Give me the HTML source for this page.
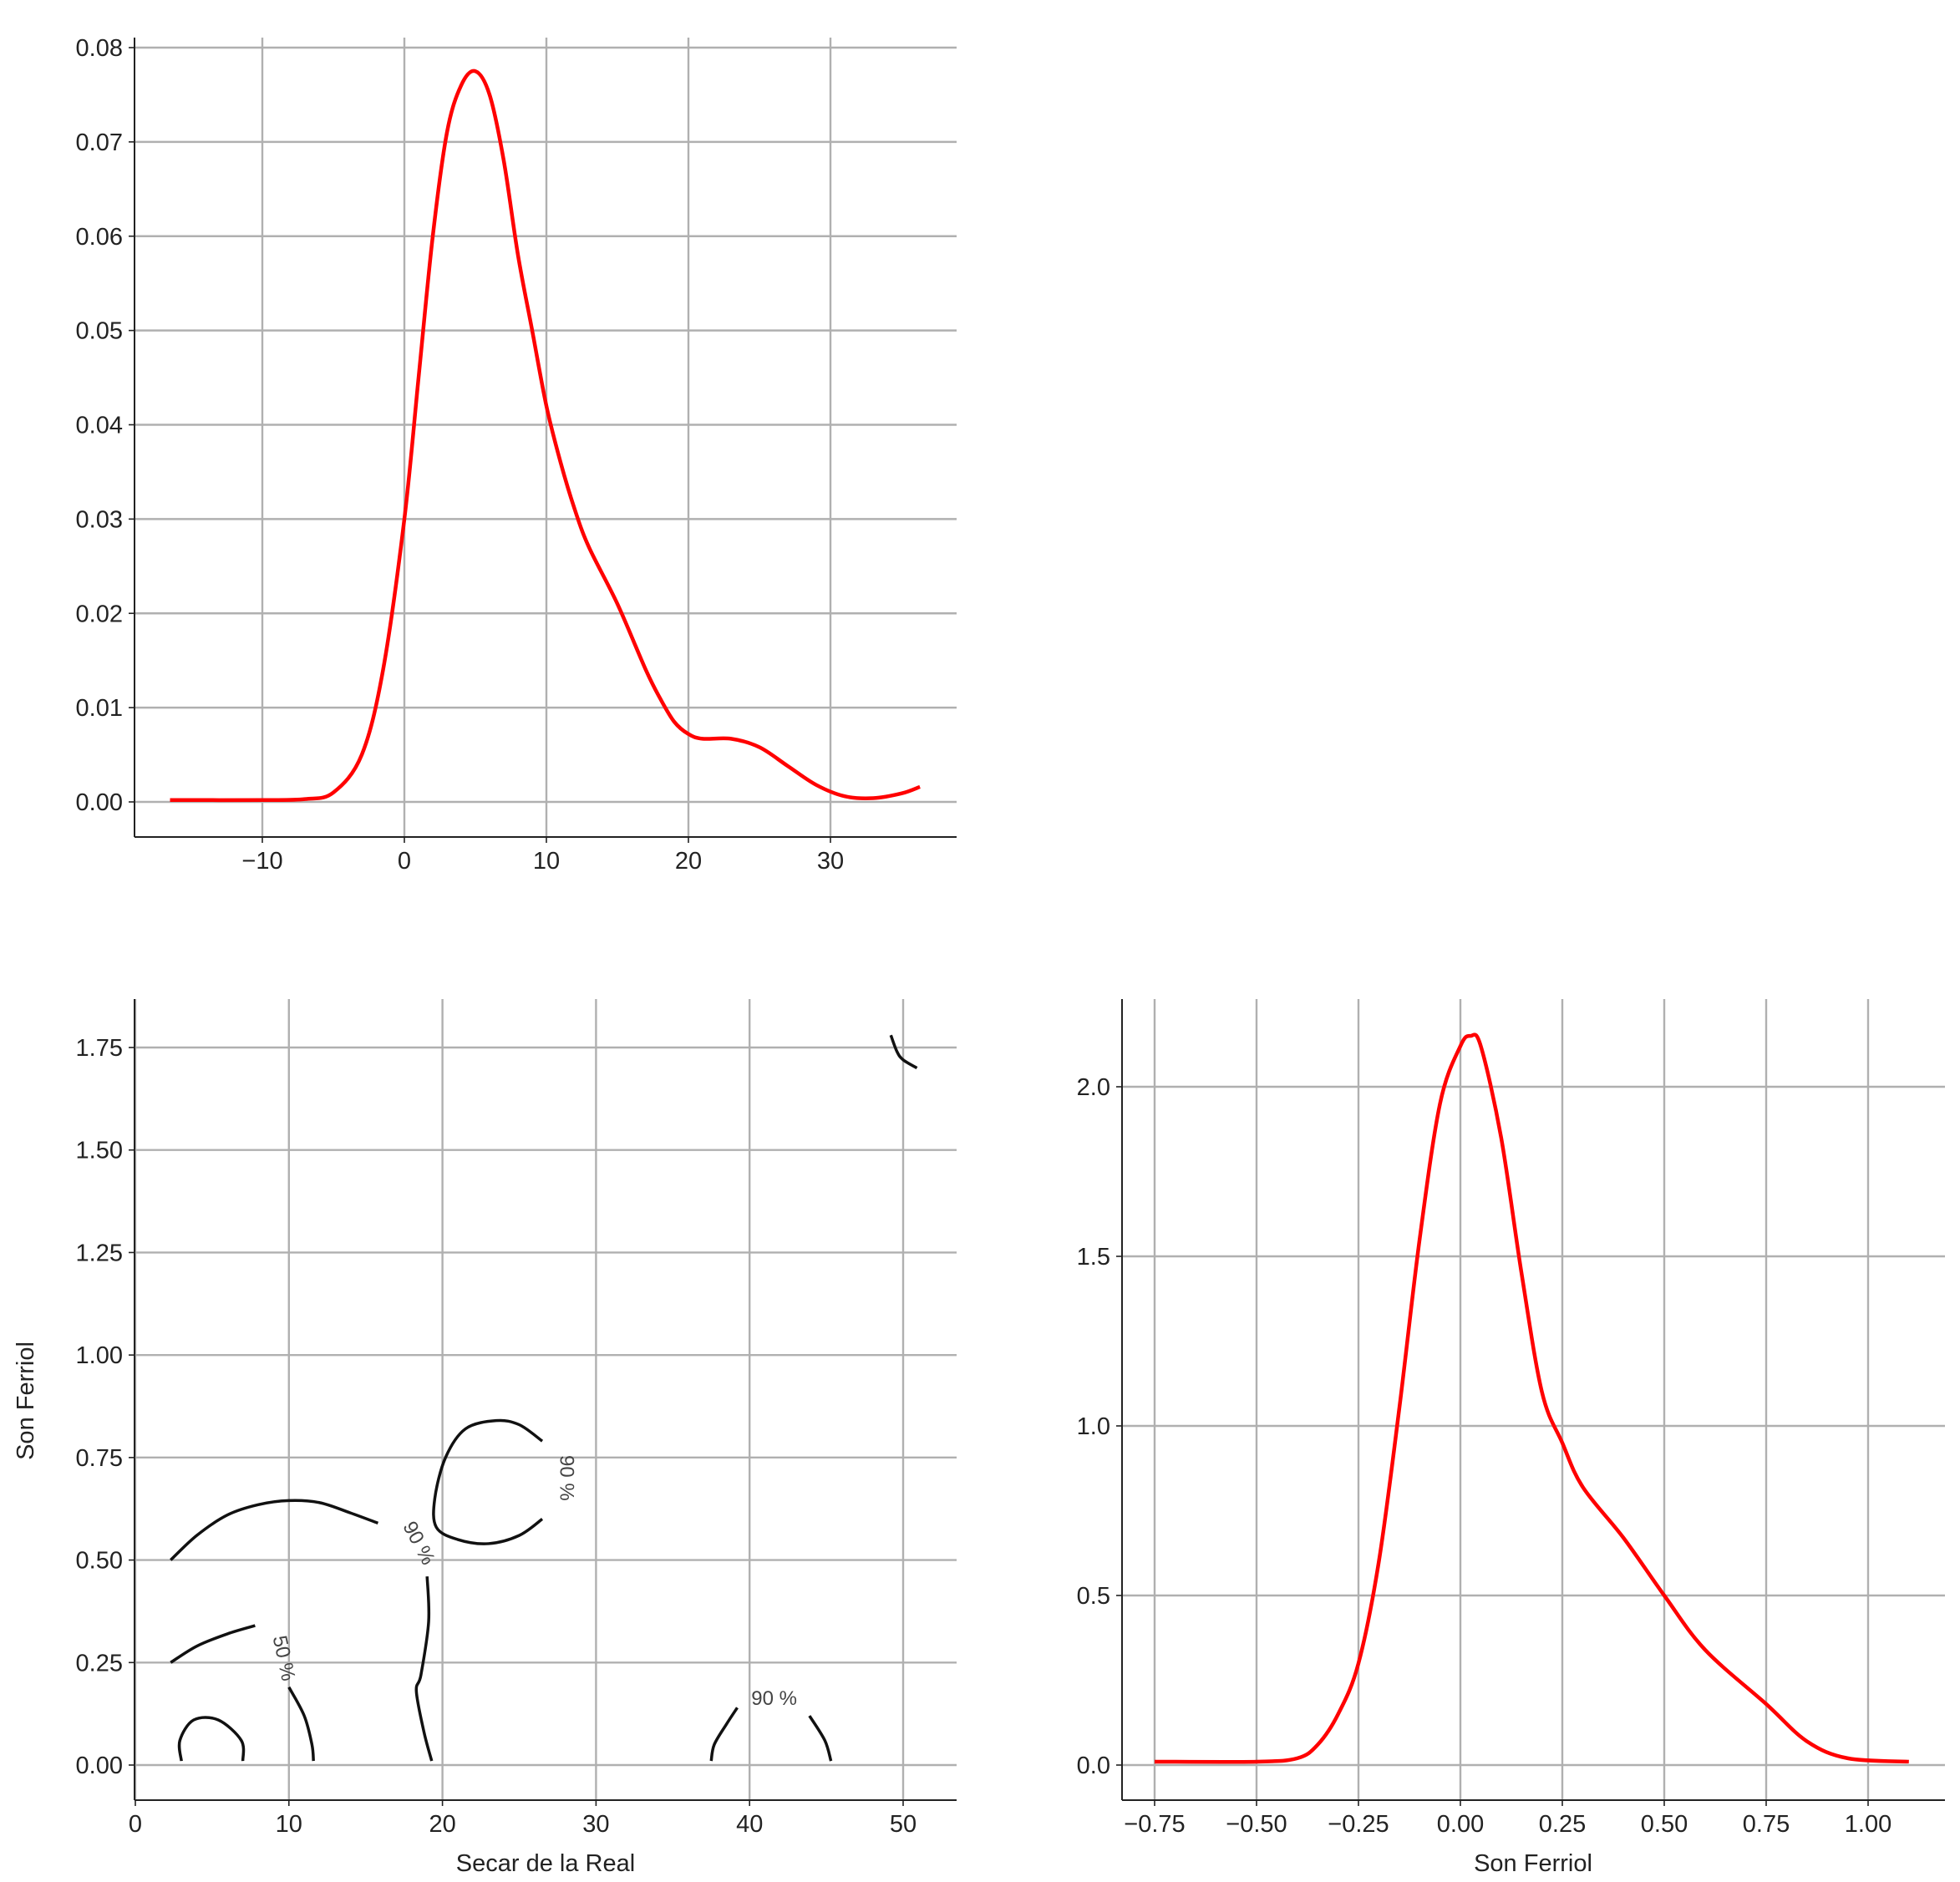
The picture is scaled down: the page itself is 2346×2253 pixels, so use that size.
<!DOCTYPE html>
<html><head><meta charset="utf-8"><style>
html,body{margin:0;padding:0;background:#fff}
svg{display:block}
text{font-family:"Liberation Sans","DejaVu Sans",sans-serif;fill:#222}
</style></head><body>
<svg id="svg" width="2346" height="2253" viewBox="0 0 2346 2253" xmlns="http://www.w3.org/2000/svg"></svg>
<script>
// ---- data ----
const topX = [-16.5,-10,-7,-5,-3,-1.5,0,1,2,3,4,5,6,7,8,9,10,11,12,13,15,17,18,19,20,21,23,25,27,29,31,33,35,36.3];
const topY = [0.0002,0.0002,0.0003,0.001,0.005,0.014,0.03,0.045,0.06,0.071,0.076,0.0775,0.075,0.068,0.058,0.05,0.042,0.036,0.031,0.027,0.021,0.014,0.011,0.0085,0.0072,0.0067,0.0067,0.0058,0.0038,0.0018,0.0006,0.0004,0.0009,0.0016];
const topXTicks = [-10,0,10,20,30];
const topXTickLabels = ["\u221210","0","10","20","30"];
const topYTicks = [0,0.01,0.02,0.03,0.04,0.05,0.06,0.07,0.08];
const topYTickLabels = ["0.00","0.01","0.02","0.03","0.04","0.05","0.06","0.07","0.08"];

const brX = [-0.75,-0.5,-0.4,-0.35,-0.3,-0.25,-0.2,-0.15,-0.1,-0.05,0,0.025,0.05,0.1,0.15,0.2,0.25,0.3,0.4,0.5,0.6,0.75,0.85,0.95,1.1];
const brY = [0.01,0.01,0.02,0.06,0.15,0.3,0.6,1.05,1.55,1.95,2.12,2.15,2.12,1.85,1.45,1.1,0.95,0.82,0.67,0.5,0.34,0.18,0.07,0.02,0.01];
const brXTicks = [-0.75,-0.5,-0.25,0,0.25,0.5,0.75,1.0];
const brXTickLabels = ["\u22120.75","\u22120.50","\u22120.25","0.00","0.25","0.50","0.75","1.00"];
const brYTicks = [0,0.5,1.0,1.5,2.0];
const brYTickLabels = ["0.0","0.5","1.0","1.5","2.0"];

const blXTicks = [0,10,20,30,40,50];
const blXTickLabels = ["0","10","20","30","40","50"];
const blYTicks = [0,0.25,0.5,0.75,1.0,1.25,1.5,1.75];
const blYTickLabels = ["0.00","0.25","0.50","0.75","1.00","1.25","1.50","1.75"];
const contourArc1 = [[2.3,0.5],[4,0.56],[6,0.61],[8,0.635],[10,0.645],[12,0.64],[14,0.615],[15.8,0.59]];
const contourLine2 = [[19,0.46],[19.1,0.35],[18.6,0.22],[18.3,0.18],[18.8,0.08],[19.3,0.01]];
const contourRing = [[26.5,0.79],[25,0.83],[23.5,0.84],[21.5,0.82],[20.2,0.75],[19.5,0.65],[19.6,0.58],[21,0.55],[23,0.54],[25,0.56],[26.5,0.6]];
const contourArc3 = [[2.3,0.25],[4,0.29],[6,0.32],[7.8,0.34]];
const contourLine4 = [[10,0.19],[11,0.12],[11.5,0.05],[11.6,0.01]];
const contourCap5 = [[3,0.01],[2.9,0.06],[3.8,0.11],[5.4,0.11],[6.9,0.06],[7,0.01]];
const contourArc6a = [[37.5,0.01],[37.7,0.05],[38.5,0.1],[39.2,0.14]];
const contourArc6b = [[43.9,0.12],[44.9,0.06],[45.3,0.01]];
const contourCorner7 = [[49.2,1.78],[49.6,1.74],[50,1.72],[50.9,1.7]];
const contourLabels = [["90 %",18.4,0.54,62],["90 %",28,0.7,90],["50 %",9.6,0.26,78],["90 %",41.6,0.16,0]];

// ---- helpers ----
const NS="http://www.w3.org/2000/svg";
const svg=document.getElementById('svg');
function mk(tag,attrs,parent){const e=document.createElementNS(NS,tag);for(const k in attrs)e.setAttribute(k,attrs[k]);(parent||svg).appendChild(e);return e;}
function lin(d0,d1,r0,r1){return v=>r0+(v-d0)*(r1-r0)/(d1-d0);}
function smoothPath(pts){let d=`M${pts[0][0]},${pts[0][1]}`;for(let i=0;i<pts.length-1;i++){const p0=pts[i-1]||pts[i],p1=pts[i],p2=pts[i+1],p3=pts[i+2]||p2;const c1=[p1[0]+(p2[0]-p0[0])/6,p1[1]+(p2[1]-p0[1])/6],c2=[p2[0]-(p3[0]-p1[0])/6,p2[1]-(p3[1]-p1[1])/6];d+=` C${c1[0]},${c1[1]} ${c2[0]},${c2[1]} ${p2[0]},${p2[1]}`;}return d;}

function axes(name,box,sx,sy,xt,xl,yt,yl){
  const g=mk('g',{});
  
  
  xt.forEach((v,i)=>{const x=sx(v);
    const l=mk('line',{x1:x,x2:x,y1:box.t,y2:box.b,stroke:'#b0b0b0','stroke-width':2.4},g);
    
    
    mk('line',{x1:x,x2:x,y1:box.b,y2:box.b+7,stroke:'#222','stroke-width':1.6},g);
    const t=mk('text',{x:x,y:box.b+38,'text-anchor':'middle','font-size':29},g);t.textContent=xl[i];
    
    
  });
  yt.forEach((v,i)=>{const y=sy(v);
    const l=mk('line',{x1:box.l,x2:box.r,y1:y,y2:y,stroke:'#b0b0b0','stroke-width':2.4},g);
    
    
    mk('line',{x1:box.l-7,x2:box.l,y1:y,y2:y,stroke:'#222','stroke-width':1.6},g);
    const t=mk('text',{x:box.l-14,y:y+10,'text-anchor':'end','font-size':29},g);t.textContent=yl[i];
    
    
  });
  mk('line',{x1:box.l,x2:box.l,y1:box.t,y2:box.b,stroke:'#222','stroke-width':2},g);
  mk('line',{x1:box.l,x2:box.r,y1:box.b,y2:box.b,stroke:'#222','stroke-width':2},g);
  return g;
}

// ---- top chart ----
const tb={l:161,r:1145,t:45,b:1002};
const tsx=lin(0,10,484,654), tsy=lin(0,0.08,960,57);
axes('top-kde-axes',tb,tsx,tsy,topXTicks,topXTickLabels,topYTicks,topYTickLabels);
const tp=mk('path',{d:smoothPath(topX.map((x,i)=>[tsx(x),tsy(topY[i])])),fill:'none',stroke:'#ff0000','stroke-width':4.5});



// ---- bottom-right chart ----
const rb={l:1343,r:2328,t:1196,b:2155};
const rsx=lin(-0.75,1.0,1382,2236), rsy=lin(0,2.0,2113,1301);
axes('son-ferriol-kde-axes',rb,rsx,rsy,brXTicks,brXTickLabels,brYTicks,brYTickLabels);
const rp=mk('path',{d:smoothPath(brX.map((x,i)=>[rsx(x),rsy(brY[i])])),fill:'none',stroke:'#ff0000','stroke-width':4.5});


const rxl=mk('text',{x:1835,y:2240,'text-anchor':'middle','font-size':29});rxl.textContent='Son Ferriol';



// ---- bottom-left contour chart ----
const lb={l:161,r:1145,t:1196,b:2155};
const lsx=lin(0,50,162,1081), lsy=lin(0,1.75,2113,1254);
axes('contour-axes',lb,lsx,lsy,blXTicks,blXTickLabels,blYTicks,blYTickLabels);
[contourArc1,contourLine2,contourRing,contourArc3,contourLine4,contourCap5,contourArc6a,contourArc6b,contourCorner7].forEach(c=>{
  const p=mk('path',{d:smoothPath(c.map(q=>[lsx(q[0]),lsy(q[1])])),fill:'none',stroke:'#111','stroke-width':3.5});
  
  
});
contourLabels.forEach(c=>{
  const x=lsx(c[1]),y=lsy(c[2]);
  const t=mk('text',{x:x,y:y,'text-anchor':'middle','dominant-baseline':'middle','font-size':24,transform:`rotate(${c[3]} ${x} ${y})`,style:'fill:#444'});
  t.textContent=c[0];
  
  
});
const lxl=mk('text',{x:653,y:2240,'text-anchor':'middle','font-size':29});lxl.textContent='Secar de la Real';


const lyl=mk('text',{x:40,y:1677,'text-anchor':'middle','font-size':29,transform:'rotate(-90 40 1677)'});lyl.textContent='Son Ferriol';


</script>
</body></html>
